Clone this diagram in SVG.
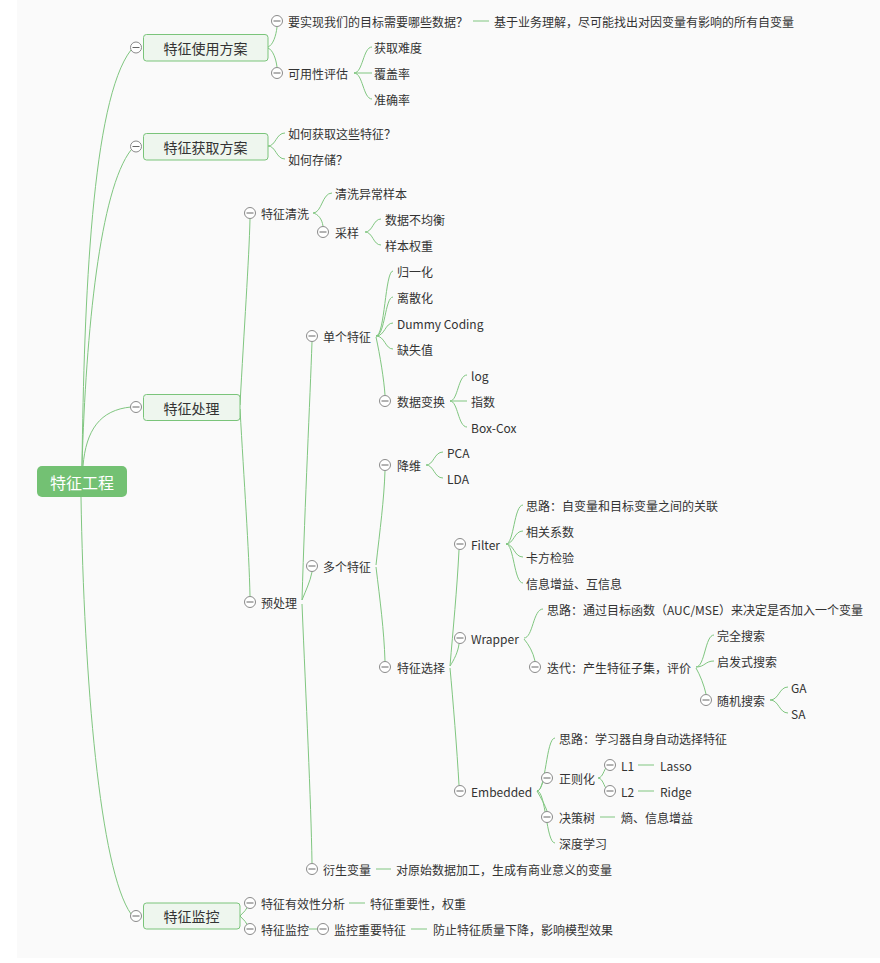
<svg xmlns="http://www.w3.org/2000/svg" xmlns:xlink="http://www.w3.org/1999/xlink" width="880" height="963" viewBox="0 0 880 963">
<defs>
<style>
.ln{fill:none;stroke:#80c680;stroke-width:1}
text{font-family:"Noto Sans CJK SC","Microsoft YaHei","Liberation Sans",sans-serif;font-size:12px;fill:#333;dominant-baseline:central}
.mt rect{fill:#eef6ee;stroke:#7ac47a;stroke-width:1}
.mt text{font-size:14px;text-anchor:middle}
.root rect{fill:#73c173}
.root text{font-size:16px;fill:#fff;text-anchor:middle}
.tg circle{fill:#fff;stroke:#8a8a8a;stroke-width:1}
.tg path{stroke:#666;stroke-width:1}
</style>
<g id="tog" class="tg"><circle r="5.5"/><path d="M-3.5,0H3.5"/></g>
</defs>
<rect x="0" y="0" width="880" height="963" fill="#ffffff"/>
<rect x="17" y="0" width="863" height="958" fill="#fafafa"/>

<g id="connectors">
<path class="ln" d="M82,466 C84,300 92,100 131,50"/>
<path class="ln" d="M82,466 C86,330 100,190 131,150"/>
<path class="ln" d="M83,466 C86,430 100,410 131,407"/>
<path class="ln" d="M81,497 C84,680 100,870 131,914"/>
<path class="ln" d="M268,47 C273,45 276,36 277,27"/>
<path class="ln" d="M268,48 C273,50 276,59 277,67"/>
<path class="ln" d="M354,73 C363,73 363,47 372,47"/>
<path class="ln" d="M354,73 H372"/>
<path class="ln" d="M354,73 C363,73 363,99 372,99"/>
<path class="ln" d="M473,21 H489"/>
<path class="ln" d="M268,146 C276,146 276,133 285,133"/>
<path class="ln" d="M268,146 C276,146 276,159 285,159"/>
<path class="ln" d="M240,405 C244,330 249,260 250,219"/>
<path class="ln" d="M240,409 C244,480 249,550 250,596"/>
<path class="ln" d="M313,213 C322,213 322,193 332,193"/>
<path class="ln" d="M313,213 C318,214 322,219 323,226"/>
<path class="ln" d="M365,232 C373,232 373,219 381,219"/>
<path class="ln" d="M365,232 C373,232 373,245 381,245"/>
<path class="ln" d="M302,600 C305,500 310,400 312,342"/>
<path class="ln" d="M302,600 C306,590 310,582 312,572"/>
<path class="ln" d="M302,604 C306,700 311,800 312,863"/>
<path class="ln" d="M376,336 C385,336 385,271 393,271"/>
<path class="ln" d="M376,336 C385,336 385,297 393,297"/>
<path class="ln" d="M376,336 C385,336 385,323 393,323"/>
<path class="ln" d="M376,336 C385,336 385,349 393,349"/>
<path class="ln" d="M376,337 C380,355 384,380 385,395"/>
<path class="ln" d="M450,401 C458,401 458,375 467,375"/>
<path class="ln" d="M450,401 H467"/>
<path class="ln" d="M450,401 C458,401 458,427 467,427"/>
<path class="ln" d="M376,565 C380,530 384,500 385,471"/>
<path class="ln" d="M376,567 C380,600 384,630 385,661"/>
<path class="ln" d="M426,465 C434,465 434,452 443,452"/>
<path class="ln" d="M426,465 C434,465 434,478 443,478"/>
<path class="ln" d="M450,666 C453,630 457,590 459,550"/>
<path class="ln" d="M450,666 C454,660 458,652 459,644"/>
<path class="ln" d="M450,668 C453,700 457,750 459,785"/>
<path class="ln" d="M506,544 C514,544 514,505 523,505"/>
<path class="ln" d="M506,544 C514,544 514,531 523,531"/>
<path class="ln" d="M506,544 C514,544 514,557 523,557"/>
<path class="ln" d="M506,544 C514,544 514,583 523,583"/>
<path class="ln" d="M524,638 C533,638 533,609 543,609"/>
<path class="ln" d="M524,639 C529,645 533,652 535,661"/>
<path class="ln" d="M696,667 C705,667 705,635 714,635"/>
<path class="ln" d="M696,667 C705,667 705,661 714,661"/>
<path class="ln" d="M696,668 C700,675 704,685 706,694"/>
<path class="ln" d="M770,700 C779,700 779,687 788,687"/>
<path class="ln" d="M770,700 C779,700 779,713 788,713"/>
<path class="ln" d="M537,791 C546,791 546,738 555,738"/>
<path class="ln" d="M537,791 C542,791 542,778 547,778"/>
<path class="ln" d="M537,791 C541,798 545,805 547,811"/>
<path class="ln" d="M537,791 C546,791 546,843 555,843"/>
<path class="ln" d="M598,778 C604,778 604,765 610,765"/>
<path class="ln" d="M598,778 C604,778 604,791 610,791"/>
<path class="ln" d="M638,765 H654"/>
<path class="ln" d="M638,791 H654"/>
<path class="ln" d="M600,817 H615"/>
<path class="ln" d="M376,869 H391"/>
<path class="ln" d="M349,903 H365"/>
<path class="ln" d="M309,929 H318"/>
<path class="ln" d="M411,929 H427"/>
<path class="ln" d="M240,916 Q245,912 250,903"/>
<path class="ln" d="M240,916 Q245,920 250,929"/>
</g>

<g id="n-root" class="root"><rect x="37" y="466" width="90" height="31" rx="5"/><text x="82" y="481.5">特征工程</text></g>

<g id="n-usage" class="mt"><use xlink:href="#tog" x="136" y="47.5"/><rect x="143.5" y="34.5" width="124.5" height="26.5" rx="3"/><text x="205.5" y="47.5">特征使用方案</text></g>
<g id="n-acquire" class="mt"><use xlink:href="#tog" x="136" y="146.5"/><rect x="143.5" y="133.5" width="124.5" height="26.5" rx="3"/><text x="205.5" y="146.5">特征获取方案</text></g>
<g id="n-process" class="mt"><use xlink:href="#tog" x="136" y="407"/><rect x="143.5" y="394.5" width="96.5" height="26" rx="3"/><text x="191.5" y="407.5">特征处理</text></g>
<g id="n-monitor" class="mt"><use xlink:href="#tog" x="136" y="916"/><rect x="143.5" y="903" width="96.5" height="26" rx="3"/><text x="191.5" y="916">特征监控</text></g>

<g id="n-need"><use xlink:href="#tog" x="277" y="21"/><text x="288" y="21">要实现我们的目标需要哪些数据？</text></g>
<g id="n-need-a"><text x="494" y="21">基于业务理解，尽可能找出对因变量有影响的所有自变量</text></g>
<g id="n-avail"><use xlink:href="#tog" x="277" y="73"/><text x="288" y="73">可用性评估</text></g>
<g id="n-av1"><text x="374" y="47">获取难度</text></g>
<g id="n-av2"><text x="374" y="73">覆盖率</text></g>
<g id="n-av3"><text x="374" y="99">准确率</text></g>

<g id="n-how"><text x="288" y="133">如何获取这些特征？</text></g>
<g id="n-store"><text x="288" y="159">如何存储？</text></g>

<g id="n-clean"><use xlink:href="#tog" x="250" y="213"/><text x="261" y="213">特征清洗</text></g>
<g id="n-clean1"><text x="335" y="193">清洗异常样本</text></g>
<g id="n-sample"><use xlink:href="#tog" x="323" y="232"/><text x="335" y="232">采样</text></g>
<g id="n-s1"><text x="385" y="219">数据不均衡</text></g>
<g id="n-s2"><text x="385" y="245">样本权重</text></g>

<g id="n-pre"><use xlink:href="#tog" x="250" y="602"/><text x="261" y="602">预处理</text></g>
<g id="n-single"><use xlink:href="#tog" x="312" y="336"/><text x="323" y="336">单个特征</text></g>
<g id="n-norm"><text x="397" y="271">归一化</text></g>
<g id="n-disc"><text x="397" y="297">离散化</text></g>
<g id="n-dummy"><text x="397" y="323">Dummy Coding</text></g>
<g id="n-miss"><text x="397" y="349">缺失值</text></g>
<g id="n-trans"><use xlink:href="#tog" x="385" y="401"/><text x="397" y="401">数据变换</text></g>
<g id="n-log"><text x="471" y="375">log</text></g>
<g id="n-exp"><text x="471" y="401">指数</text></g>
<g id="n-boxcox"><text x="471" y="427">Box-Cox</text></g>

<g id="n-multi"><use xlink:href="#tog" x="312" y="566"/><text x="323" y="566">多个特征</text></g>
<g id="n-dim"><use xlink:href="#tog" x="385" y="465"/><text x="397" y="465">降维</text></g>
<g id="n-pca"><text x="447" y="452">PCA</text></g>
<g id="n-lda"><text x="447" y="478">LDA</text></g>
<g id="n-select"><use xlink:href="#tog" x="385" y="667"/><text x="397" y="667">特征选择</text></g>
<g id="n-filter"><use xlink:href="#tog" x="460" y="544"/><text x="471" y="544">Filter</text></g>
<g id="n-f1"><text x="526" y="505">思路：自变量和目标变量之间的关联</text></g>
<g id="n-f2"><text x="526" y="531">相关系数</text></g>
<g id="n-f3"><text x="526" y="557">卡方检验</text></g>
<g id="n-f4"><text x="526" y="583">信息增益、互信息</text></g>
<g id="n-wrapper"><use xlink:href="#tog" x="460" y="638"/><text x="471" y="638">Wrapper</text></g>
<g id="n-w1"><text x="547" y="609">思路：通过目标函数（AUC/MSE）来决定是否加入一个变量</text></g>
<g id="n-iter"><use xlink:href="#tog" x="535" y="667"/><text x="547" y="667">迭代：产生特征子集，评价</text></g>
<g id="n-full"><text x="717" y="635">完全搜索</text></g>
<g id="n-heur"><text x="717" y="661">启发式搜索</text></g>
<g id="n-rand"><use xlink:href="#tog" x="706" y="700"/><text x="717" y="700">随机搜索</text></g>
<g id="n-ga"><text x="791" y="687">GA</text></g>
<g id="n-sa"><text x="791" y="713">SA</text></g>
<g id="n-emb"><use xlink:href="#tog" x="460" y="791"/><text x="471" y="791">Embedded</text></g>
<g id="n-e1"><text x="559" y="738">思路：学习器自身自动选择特征</text></g>
<g id="n-reg"><use xlink:href="#tog" x="547" y="778"/><text x="559" y="778">正则化</text></g>
<g id="n-l1"><use xlink:href="#tog" x="610" y="765"/><text x="621" y="765">L1</text></g>
<g id="n-lasso"><text x="660" y="765">Lasso</text></g>
<g id="n-l2"><use xlink:href="#tog" x="610" y="791"/><text x="621" y="791">L2</text></g>
<g id="n-ridge"><text x="660" y="791">Ridge</text></g>
<g id="n-tree"><use xlink:href="#tog" x="547" y="817"/><text x="559" y="817">决策树</text></g>
<g id="n-entropy"><text x="621" y="817">熵、信息增益</text></g>
<g id="n-deep"><text x="559" y="843">深度学习</text></g>

<g id="n-derive"><use xlink:href="#tog" x="312" y="869"/><text x="323" y="869">衍生变量</text></g>
<g id="n-derive-a"><text x="396" y="869">对原始数据加工，生成有商业意义的变量</text></g>

<g id="n-valid"><use xlink:href="#tog" x="250" y="903"/><text x="261" y="903">特征有效性分析</text></g>
<g id="n-valid-a"><text x="370" y="903">特征重要性，权重</text></g>
<g id="n-mon"><use xlink:href="#tog" x="250" y="929"/><text x="261" y="929">特征监控</text></g>
<g id="n-mon-imp"><use xlink:href="#tog" x="323" y="929"/><text x="334" y="929">监控重要特征</text></g>
<g id="n-mon-a"><text x="433" y="929">防止特征质量下降，影响模型效果</text></g>
</svg>
